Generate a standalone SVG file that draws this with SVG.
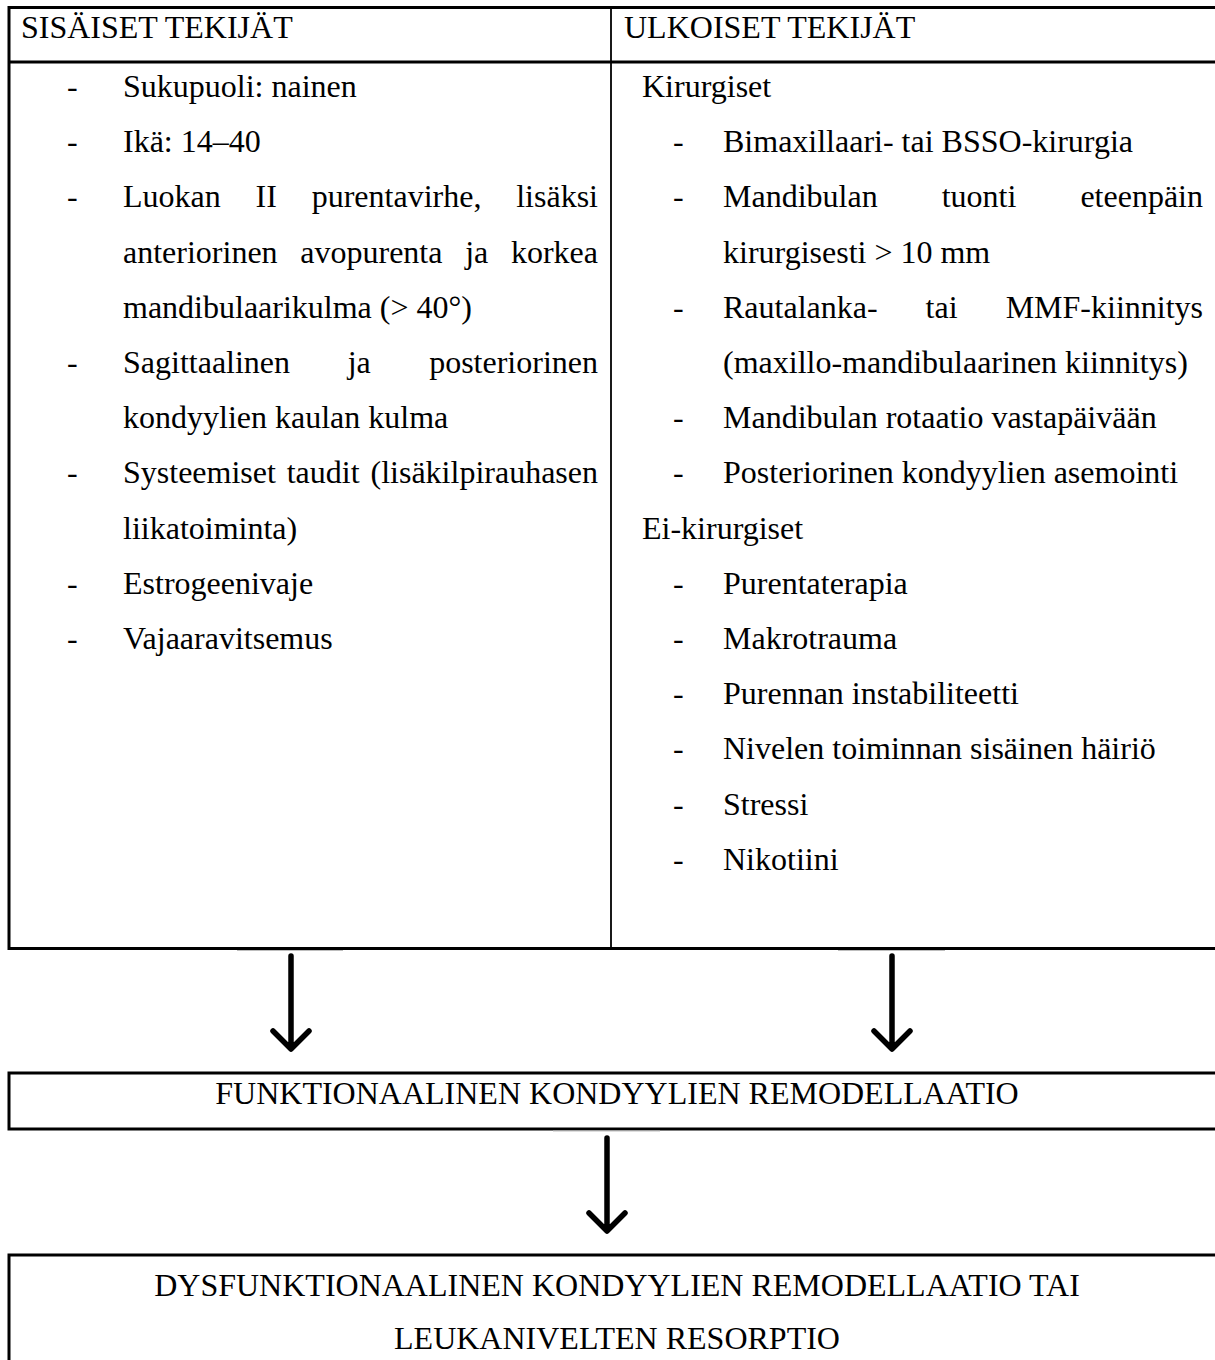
<svg xmlns="http://www.w3.org/2000/svg" width="1215" height="1360" viewBox="0 0 1215 1360">
<style>
text{font-family:"Liberation Serif","Times New Roman",serif;font-size:32px;fill:#000}
.b{fill:none;stroke:#000;stroke-width:3}
.d{stroke:#000;stroke-width:1.8}
.arr{fill:none;stroke:#000;stroke-width:5.5;stroke-linecap:round;stroke-linejoin:round}
.g{stroke:#bdbdbd;stroke-width:1.2}
.e{text-anchor:end}
.m{text-anchor:middle}
</style>
<rect width="1215" height="1360" fill="#fff"/>
<g id="table">
<rect class="b" x="9" y="7.5" width="1220" height="941"/>
<line class="b" x1="9" y1="62" x2="1225" y2="62"/>
<line class="d" x1="611" y1="7.5" x2="611" y2="948"/>
</g>
<g id="sisaiset">
<text x="21" y="38">SISÄISET TEKIJÄT</text>
<text x="67" y="97">-</text><text x="123" y="97">Sukupuoli: nainen</text>
<text x="67" y="152">-</text><text x="123" y="152">Ikä: 14–40</text>
<text x="67" y="207">-</text><text x="123" y="207">Luokan</text><text x="255.6" y="207">II</text><text x="311.7" y="207">purentavirhe,</text><text class="e" x="598" y="207">lisäksi</text>
<text x="123" y="263">anteriorinen</text><text x="300.3" y="263">avopurenta</text><text x="465.2" y="263">ja</text><text class="e" x="598" y="263">korkea</text>
<text x="123" y="318">mandibulaarikulma (&gt; 40°)</text>
<text x="67" y="373">-</text><text x="123" y="373">Sagittaalinen</text><text x="347.7" y="373">ja</text><text class="e" x="598" y="373">posteriorinen</text>
<text x="123" y="428">kondyylien kaulan kulma</text>
<text x="67" y="483">-</text><text x="123" y="483">Systeemiset</text><text x="286.7" y="483">taudit</text><text class="e" x="598" y="483">(lisäkilpirauhasen</text>
<text x="123" y="539">liikatoiminta)</text>
<text x="67" y="594">-</text><text x="123" y="594">Estrogeenivaje</text>
<text x="67" y="649">-</text><text x="123" y="649">Vajaaravitsemus</text>
</g>
<g id="ulkoiset">
<text x="624" y="38">ULKOISET TEKIJÄT</text>
<text x="642" y="97">Kirurgiset</text>
<text x="673" y="152">-</text><text x="723" y="152">Bimaxillaari- tai BSSO-kirurgia</text>
<text x="673" y="207">-</text><text x="723" y="207">Mandibulan</text><text x="941.7" y="207">tuonti</text><text class="e" x="1203" y="207">eteenpäin</text>
<text x="723" y="263">kirurgisesti &gt; 10 mm</text>
<text x="673" y="318">-</text><text x="723" y="318">Rautalanka-</text><text x="925.6" y="318">tai</text><text class="e" x="1203" y="318">MMF-kiinnitys</text>
<text x="723" y="373">(maxillo-mandibulaarinen kiinnitys)</text>
<text x="673" y="428">-</text><text x="723" y="428">Mandibulan rotaatio vastapäivään</text>
<text x="673" y="483">-</text><text x="723" y="483">Posteriorinen kondyylien asemointi</text>
<text x="642" y="539">Ei-kirurgiset</text>
<text x="673" y="594">-</text><text x="723" y="594">Purentaterapia</text>
<text x="673" y="649">-</text><text x="723" y="649">Makrotrauma</text>
<text x="673" y="704">-</text><text x="723" y="704">Purennan instabiliteetti</text>
<text x="673" y="759">-</text><text x="723" y="759">Nivelen toiminnan sisäinen häiriö</text>
<text x="673" y="815">-</text><text x="723" y="815">Stressi</text>
<text x="673" y="870">-</text><text x="723" y="870">Nikotiini</text>
</g>
<g id="funktionaalinen">
<rect class="b" x="9" y="1073" width="1220" height="56"/>
<text class="m" x="617" y="1104">FUNKTIONAALINEN KONDYYLIEN REMODELLAATIO</text>
</g>
<g id="dysfunktionaalinen">
<rect class="b" x="9" y="1255" width="1220" height="120"/>
<text class="m" x="617" y="1296">DYSFUNKTIONAALINEN KONDYYLIEN REMODELLAATIO TAI</text>
<text class="m" x="617" y="1349">LEUKANIVELTEN RESORPTIO</text>
</g>
<g id="connectors">
<line class="g" x1="237" y1="950.5" x2="343" y2="950.5"/>
<line class="g" x1="838" y1="950.5" x2="945" y2="950.5"/>
<line class="g" x1="553" y1="1131" x2="660" y2="1131"/>
<path class="arr" d="M291 956V1048M273 1031L291 1049L309 1031"/>
<path class="arr" d="M892 956V1048M874 1031L892 1049L910 1031"/>
<path class="arr" d="M607 1138V1230M589 1213L607 1231L625 1213"/>
</g>
</svg>
